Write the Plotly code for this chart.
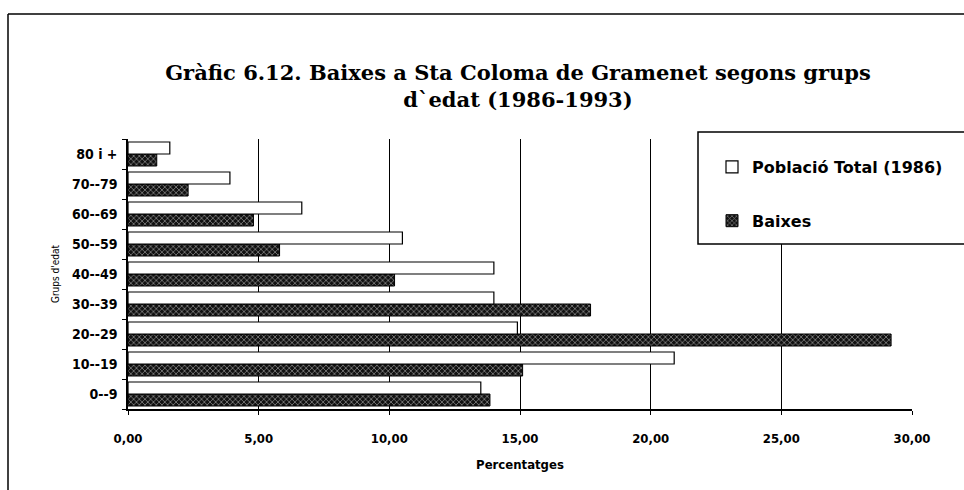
import plotly.graph_objects as go

categories = ["0--9", "10--19", "20--29", "30--39", "40--49", "50--59", "60--69", "70--79", "80 i +"]
poblacio = [13.5, 20.9, 14.9, 14.0, 14.0, 10.5, 6.65, 3.9, 1.6]
baixes = [13.85, 15.1, 29.2, 17.7, 10.2, 5.8, 4.8, 2.3, 1.1]
x_ticks = [0, 5, 10, 15, 20, 25, 30]

W, H = 964, 490
L, R, T, B = 128, 52, 139, 81
pw, ph = W - L - R, H - T - B

def px(x):
    return (x - L) / pw

def py(y):
    return (H - B - y) / ph

fig = go.Figure()
fig.add_trace(go.Bar(
    y=categories, x=baixes, orientation="h", name="Baixes",
    legendrank=2, legendgroup="b",
    marker=dict(color="#111111", line=dict(color="black", width=1),
                pattern=dict(shape="x", fgcolor="#ffffff", bgcolor="#111111",
                             size=4, solidity=0.35, fillmode="overlay")),
))
fig.add_trace(go.Bar(
    y=categories, x=poblacio, orientation="h", name="Població Total (1986)",
    legendrank=1, legendgroup="a",
    marker=dict(color="white", line=dict(color="black", width=1.2)),
))

shapes = [
    dict(type="line", xref="paper", yref="paper", x0=px(8), x1=px(W + 5), y0=py(14), y1=py(14),
         line=dict(color="black", width=1.5)),
    dict(type="line", xref="paper", yref="paper", x0=px(8), x1=px(8), y0=py(14), y1=py(H + 5),
         line=dict(color="black", width=1.5)),
    dict(type="rect", xref="paper", yref="paper", x0=px(698), x1=px(W + 5), y0=py(132), y1=py(244),
         line=dict(color="black", width=1.5), fillcolor="white", layer="above"),
]

fig.update_layout(
    width=W, height=H,
    margin=dict(l=L, r=R, t=T, b=B),
    paper_bgcolor="white", plot_bgcolor="white",
    barmode="group", bargap=0.2, bargroupgap=0,
    separators=",.",
    title=dict(text="Gràfic 6.12. Baixes a Sta Coloma de Gramenet segons grups<br>d`edat (1986-1993)",
               x=518 / W, xref="container", xanchor="center",
               y=1 - 80 / H, yanchor="middle", yref="container",
               font=dict(family="DejaVu Serif", size=21, color="black", weight="bold")),
    legend=dict(x=px(712), y=py(150), xanchor="left", yanchor="top",
                bgcolor="rgba(0,0,0,0)", borderwidth=0, tracegroupgap=30,
                font=dict(family="DejaVu Sans", size=16, color="black", weight="bold"),
                itemwidth=30),
    shapes=shapes,
    xaxis=dict(range=[0, 30], tickvals=x_ticks, tickformat=".2f",
               showgrid=True, gridcolor="black", gridwidth=1,
               showline=True, linecolor="black", linewidth=1.5,
               ticks="outside", ticklen=4, tickcolor="black",
               ticklabelstandoff=13,
               tickfont=dict(family="DejaVu Sans Condensed", size=13, color="black", weight="bold"),
               title=dict(text="Percentatges", standoff=15,
                          font=dict(family="DejaVu Sans Condensed", size=13, color="black", weight="bold")),
               zeroline=False, fixedrange=True),
    yaxis=dict(type="category", categoryorder="array", categoryarray=categories,
               showline=True, linecolor="black", linewidth=1.5,
               ticks="outside", ticklen=4, tickcolor="black", tickson="boundaries",
               ticklabelstandoff=6,
               tickfont=dict(family="DejaVu Sans Condensed", size=14, color="black", weight="bold"),
               title=dict(text="Grups d'edat", standoff=10,
                          font=dict(family="DejaVu Sans Condensed", size=10, color="black")),
               showgrid=False, fixedrange=True),
)

fig.write_html("out.html", config={"displayModeBar": False},
               post_script="document.body.style.margin='0px';")
